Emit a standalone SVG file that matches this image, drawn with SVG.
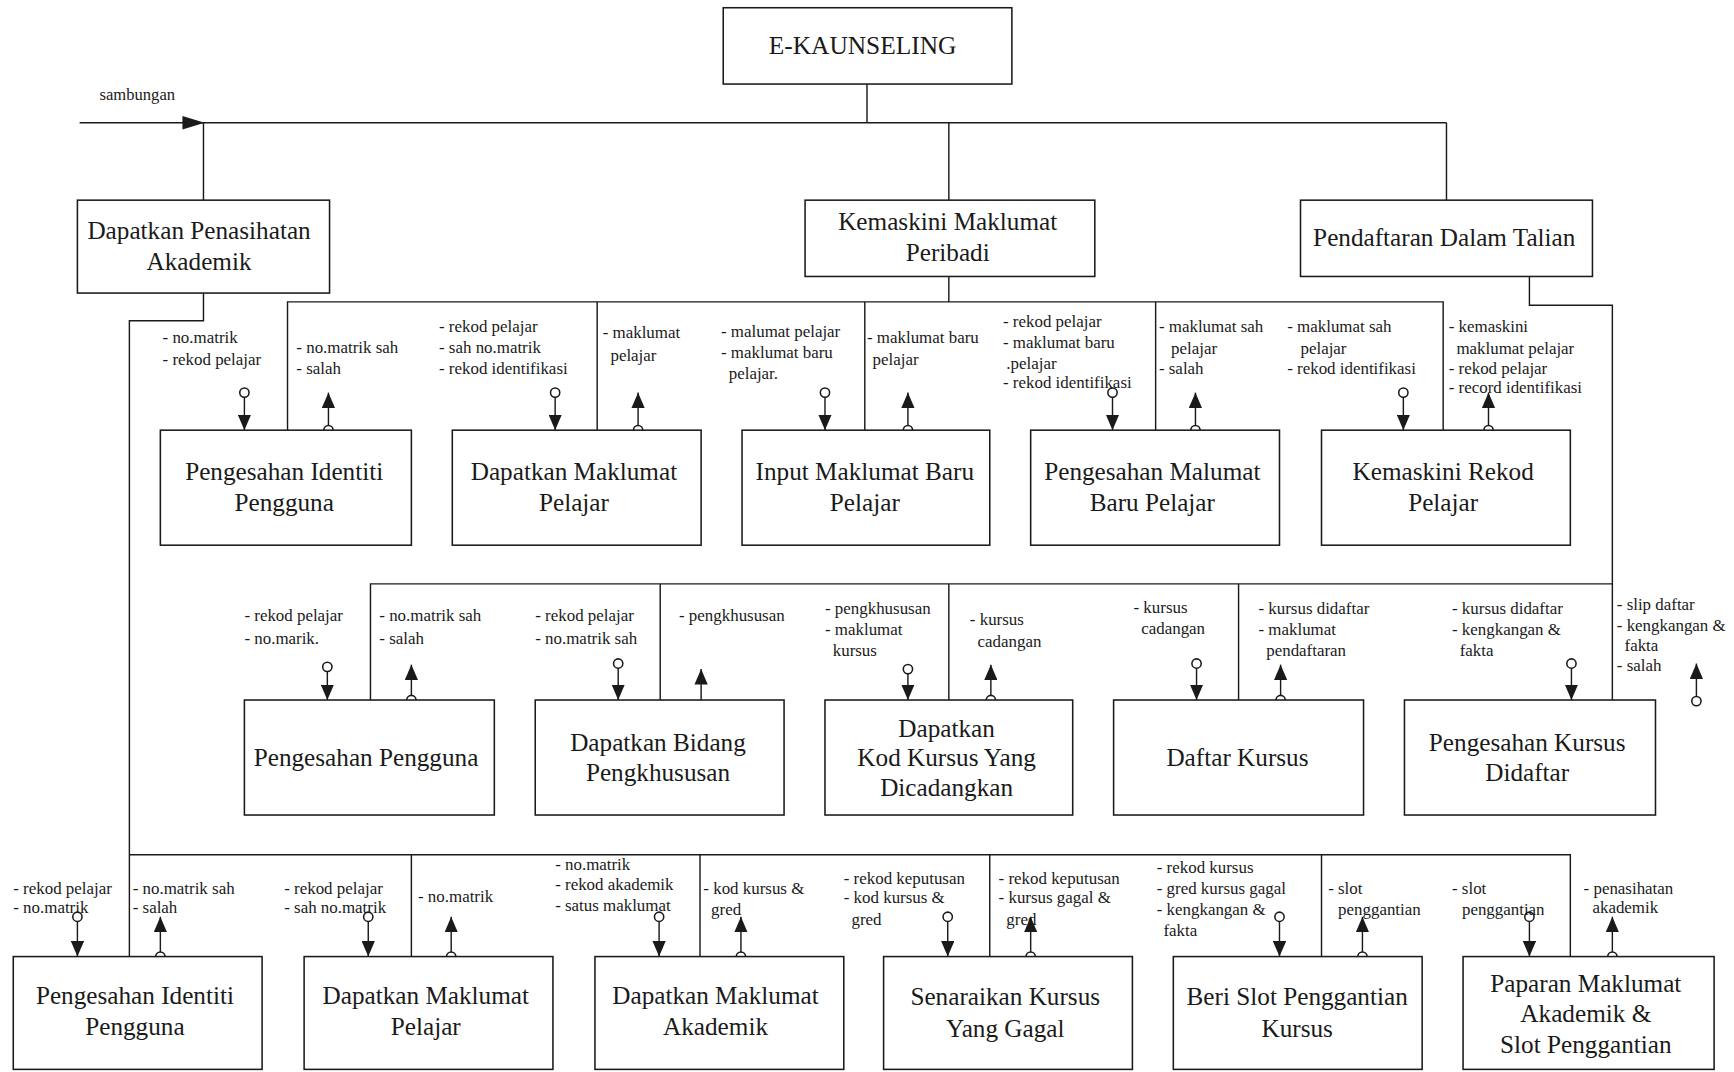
<svg xmlns="http://www.w3.org/2000/svg" width="1734" height="1072" viewBox="0 0 1734 1072">
<style>
.box{fill:#fff;stroke:#1a1a1a;stroke-width:1.4}
.ln{fill:none;stroke:#1a1a1a;stroke-width:1.3}
.ar{fill:none;stroke:#1a1a1a;stroke-width:1.3}
.dot{fill:none;stroke:#1a1a1a;stroke-width:1.4}
.t{font-family:"Liberation Serif","Times New Roman",serif;font-size:22.8px;fill:#1a1a1a;text-anchor:middle}
.lb{font-family:"Liberation Serif","Times New Roman",serif;font-size:15.3px;fill:#1a1a1a}
</style>
<defs>
<marker id="tri" viewBox="0 0 14 12" refX="14" refY="6" markerWidth="14" markerHeight="12" orient="auto" markerUnits="userSpaceOnUse">
<path d="M0,0 L14,6 L0,12 z" fill="#1a1a1a"/>
</marker>
</defs>
<rect width="1734" height="1072" fill="#fff"/>
<g transform="scale(1.10587)">
<g id="connectors">
<path class="ln" d="M784,76 V111"/>
<path class="ln" d="M72,111 H1308"/>
<polygon points="165,105 165,117 185,111" fill="#1a1a1a"/>
<path class="ln" d="M184,111 V181 M858,111 V181 M1308,111 V181"/>
<path class="ln" d="M184,265 V290 H117 V865"/>
<path class="ln" d="M858,250 V273 M260,389 V273 H1305 V389 M540,273 V389 M782,273 V389 M1045,273 V389"/>
<path class="ln" d="M1383,250 V276 H1458 V633 M335,633 V528 H1458 M597,528 V633 M858,528 V633 M1120,528 V633"/>
<path class="ln" d="M117,773 H1420 V865 M372,773 V865 M633,773 V865 M895,773 V865 M1195,773 V865"/>
<g id="row2-arrows">
<circle class="dot" cx="221" cy="355" r="4.2"/><path class="ar" d="M221,359 V389" marker-end="url(#tri)"/>
<circle class="dot" cx="297" cy="389" r="4.2"/><path class="ar" d="M297,385 V355" marker-end="url(#tri)"/>
<circle class="dot" cx="502" cy="355" r="4.2"/><path class="ar" d="M502,359 V389" marker-end="url(#tri)"/>
<circle class="dot" cx="577" cy="389" r="4.2"/><path class="ar" d="M577,385 V355" marker-end="url(#tri)"/>
<circle class="dot" cx="746" cy="355" r="4.2"/><path class="ar" d="M746,359 V389" marker-end="url(#tri)"/>
<circle class="dot" cx="821" cy="389" r="4.2"/><path class="ar" d="M821,385 V355" marker-end="url(#tri)"/>
<circle class="dot" cx="1006" cy="355" r="4.2"/><path class="ar" d="M1006,359 V389" marker-end="url(#tri)"/>
<circle class="dot" cx="1081" cy="389" r="4.2"/><path class="ar" d="M1081,385 V355" marker-end="url(#tri)"/>
<circle class="dot" cx="1269" cy="355" r="4.2"/><path class="ar" d="M1269,359 V389" marker-end="url(#tri)"/>
<circle class="dot" cx="1346" cy="389" r="4.2"/><path class="ar" d="M1346,385 V355" marker-end="url(#tri)"/>
</g>
<g id="row3-arrows">
<circle class="dot" cx="296" cy="603" r="4.2"/><path class="ar" d="M296,607 V633" marker-end="url(#tri)"/>
<circle class="dot" cx="372" cy="633" r="4.2"/><path class="ar" d="M372,629 V601" marker-end="url(#tri)"/>
<circle class="dot" cx="559" cy="600" r="4.2"/><path class="ar" d="M559,604 V633" marker-end="url(#tri)"/>
<circle class="dot" cx="634" cy="639" r="4.2"/><path class="ar" d="M634,635 V605" marker-end="url(#tri)"/>
<circle class="dot" cx="821" cy="605" r="4.2"/><path class="ar" d="M821,609 V633" marker-end="url(#tri)"/>
<circle class="dot" cx="896" cy="633" r="4.2"/><path class="ar" d="M896,629 V601" marker-end="url(#tri)"/>
<circle class="dot" cx="1082" cy="600" r="4.2"/><path class="ar" d="M1082,604 V633" marker-end="url(#tri)"/>
<circle class="dot" cx="1158" cy="633" r="4.2"/><path class="ar" d="M1158,629 V601" marker-end="url(#tri)"/>
<circle class="dot" cx="1421" cy="600" r="4.2"/><path class="ar" d="M1421,604 V633" marker-end="url(#tri)"/>
<circle class="dot" cx="1534" cy="634" r="4.2"/><path class="ar" d="M1534,630 V600" marker-end="url(#tri)"/>
</g>
<g id="row4-arrows">
<circle class="dot" cx="70" cy="829" r="4.2"/><path class="ar" d="M70,833 V865" marker-end="url(#tri)"/>
<circle class="dot" cx="145" cy="865" r="4.2"/><path class="ar" d="M145,861 V829" marker-end="url(#tri)"/>
<circle class="dot" cx="333" cy="829" r="4.2"/><path class="ar" d="M333,833 V865" marker-end="url(#tri)"/>
<circle class="dot" cx="408" cy="865" r="4.2"/><path class="ar" d="M408,861 V829" marker-end="url(#tri)"/>
<circle class="dot" cx="596" cy="829" r="4.2"/><path class="ar" d="M596,833 V865" marker-end="url(#tri)"/>
<circle class="dot" cx="670" cy="865" r="4.2"/><path class="ar" d="M670,861 V829" marker-end="url(#tri)"/>
<circle class="dot" cx="857" cy="829" r="4.2"/><path class="ar" d="M857,833 V865" marker-end="url(#tri)"/>
<circle class="dot" cx="932" cy="865" r="4.2"/><path class="ar" d="M932,861 V829" marker-end="url(#tri)"/>
<circle class="dot" cx="1157" cy="829" r="4.2"/><path class="ar" d="M1157,833 V865" marker-end="url(#tri)"/>
<circle class="dot" cx="1232" cy="865" r="4.2"/><path class="ar" d="M1232,861 V829" marker-end="url(#tri)"/>
<circle class="dot" cx="1383" cy="829" r="4.2"/><path class="ar" d="M1383,833 V865" marker-end="url(#tri)"/>
<circle class="dot" cx="1458" cy="865" r="4.2"/><path class="ar" d="M1458,861 V829" marker-end="url(#tri)"/>
</g>
</g>
<g id="labels">
<text class="lb" x="90" y="90" style="font-size:15px">sambungan</text>
<text class="lb"><tspan x="147" y="310">- no.matrik</tspan><tspan x="147" y="330">- rekod pelajar</tspan></text>
<text class="lb"><tspan x="268" y="319">- no.matrik sah</tspan><tspan x="268" y="338">- salah</tspan></text>
<text class="lb"><tspan x="397" y="300">- rekod pelajar</tspan><tspan x="397" y="319">- sah no.matrik</tspan><tspan x="397" y="338">- rekod identifikasi</tspan></text>
<text class="lb"><tspan x="545" y="306">- maklumat</tspan><tspan x="552" y="326">pelajar</tspan></text>
<text class="lb"><tspan x="652" y="305">- malumat pelajar</tspan><tspan x="652" y="324">- maklumat baru</tspan><tspan x="659" y="343">pelajar.</tspan></text>
<text class="lb"><tspan x="784" y="310">- maklumat baru</tspan><tspan x="789" y="330">pelajar</tspan></text>
<text class="lb"><tspan x="907" y="296">- rekod pelajar</tspan><tspan x="907" y="315">- maklumat baru</tspan><tspan x="910" y="334">.pelajar</tspan><tspan x="907" y="351">- rekod identifikasi</tspan></text>
<text class="lb"><tspan x="1048" y="300">- maklumat sah</tspan><tspan x="1059" y="320">pelajar</tspan><tspan x="1048" y="338">- salah</tspan></text>
<text class="lb"><tspan x="1164" y="300">- maklumat sah</tspan><tspan x="1176" y="320">pelajar</tspan><tspan x="1164" y="338">- rekod identifikasi</tspan></text>
<text class="lb"><tspan x="1310" y="300">- kemaskini</tspan><tspan x="1317" y="320">maklumat pelajar</tspan><tspan x="1310" y="338">- rekod pelajar</tspan><tspan x="1310" y="355">- record identifikasi</tspan></text>

<text class="lb"><tspan x="221" y="562">- rekod pelajar</tspan><tspan x="221" y="582">- no.marik.</tspan></text>
<text class="lb"><tspan x="343" y="562">- no.matrik sah</tspan><tspan x="343" y="582">- salah</tspan></text>
<text class="lb"><tspan x="484" y="562">- rekod pelajar</tspan><tspan x="484" y="582">- no.matrik sah</tspan></text>
<text class="lb"><tspan x="614" y="562">- pengkhususan</tspan></text>
<text class="lb"><tspan x="746" y="555">- pengkhususan</tspan><tspan x="746" y="574">- maklumat</tspan><tspan x="753" y="593">kursus</tspan></text>
<text class="lb"><tspan x="877" y="565">- kursus</tspan><tspan x="884" y="585">cadangan</tspan></text>
<text class="lb"><tspan x="1025" y="554">- kursus</tspan><tspan x="1032" y="573">cadangan</tspan></text>
<text class="lb"><tspan x="1138" y="555">- kursus didaftar</tspan><tspan x="1138" y="574">- maklumat</tspan><tspan x="1145" y="593">pendaftaran</tspan></text>
<text class="lb"><tspan x="1313" y="555">- kursus didaftar</tspan><tspan x="1313" y="574">- kengkangan &amp;</tspan><tspan x="1320" y="593">fakta</tspan></text>
<text class="lb"><tspan x="1462" y="552">- slip daftar</tspan><tspan x="1462" y="571">- kengkangan &amp;</tspan><tspan x="1469" y="589">fakta</tspan><tspan x="1462" y="607">- salah</tspan></text>

<text class="lb"><tspan x="12" y="808">- rekod pelajar</tspan><tspan x="12" y="826">- no.matrik</tspan></text>
<text class="lb"><tspan x="120" y="808">- no.matrik sah</tspan><tspan x="120" y="826">- salah</tspan></text>
<text class="lb"><tspan x="257" y="808">- rekod pelajar</tspan><tspan x="257" y="826">- sah no.matrik</tspan></text>
<text class="lb"><tspan x="378" y="816">- no.matrik</tspan></text>
<text class="lb"><tspan x="502" y="787">- no.matrik</tspan><tspan x="502" y="805">- rekod akademik</tspan><tspan x="502" y="824">- satus maklumat</tspan></text>
<text class="lb"><tspan x="636" y="808">- kod kursus &amp;</tspan><tspan x="643" y="827">gred</tspan></text>
<text class="lb"><tspan x="763" y="799">- rekod keputusan</tspan><tspan x="763" y="817">- kod kursus &amp;</tspan><tspan x="770" y="836">gred</tspan></text>
<text class="lb"><tspan x="903" y="799">- rekod keputusan</tspan><tspan x="903" y="817">- kursus gagal &amp;</tspan><tspan x="910" y="836">gred</tspan></text>
<text class="lb"><tspan x="1046" y="789">- rekod kursus</tspan><tspan x="1046" y="808">- gred kursus gagal</tspan><tspan x="1046" y="827">- kengkangan &amp;</tspan><tspan x="1052" y="846">fakta</tspan></text>
<text class="lb"><tspan x="1201" y="808">- slot</tspan><tspan x="1210" y="827">penggantian</tspan></text>
<text class="lb"><tspan x="1313" y="808">- slot</tspan><tspan x="1322" y="827">penggantian</tspan></text>
<text class="lb"><tspan x="1432" y="808">- penasihatan</tspan><tspan x="1440" y="826">akademik</tspan></text>
</g>

<g id="n-ekaunseling"><rect class="box" x="654" y="7" width="261" height="69"/><text class="t" x="780" y="49" style="font-size:23px">E-KAUNSELING</text></g>
<g id="n-penasihatan"><rect class="box" x="70" y="181" width="228" height="84"/><text class="t"><tspan x="180" y="216">Dapatkan Penasihatan</tspan><tspan x="180" y="244">Akademik</tspan></text></g>
<g id="n-kemaskini-peribadi"><rect class="box" x="728" y="181" width="262" height="69"/><text class="t"><tspan x="857" y="208">Kemaskini Maklumat</tspan><tspan x="857" y="236">Peribadi</tspan></text></g>
<g id="n-pendaftaran"><rect class="box" x="1176" y="181" width="264" height="69"/><text class="t" x="1306" y="222">Pendaftaran Dalam Talian</text></g>

<g id="n-r2-1"><rect class="box" x="145" y="389" width="227" height="104"/><text class="t"><tspan x="257" y="434">Pengesahan Identiti</tspan><tspan x="257" y="462">Pengguna</tspan></text></g>
<g id="n-r2-2"><rect class="box" x="409" y="389" width="225" height="104"/><text class="t"><tspan x="519" y="434">Dapatkan Maklumat</tspan><tspan x="519" y="462">Pelajar</tspan></text></g>
<g id="n-r2-3"><rect class="box" x="671" y="389" width="224" height="104"/><text class="t"><tspan x="782" y="434">Input Maklumat Baru</tspan><tspan x="782" y="462">Pelajar</tspan></text></g>
<g id="n-r2-4"><rect class="box" x="932" y="389" width="225" height="104"/><text class="t"><tspan x="1042" y="434">Pengesahan Malumat</tspan><tspan x="1042" y="462">Baru Pelajar</tspan></text></g>
<g id="n-r2-5"><rect class="box" x="1195" y="389" width="225" height="104"/><text class="t"><tspan x="1305" y="434">Kemaskini Rekod</tspan><tspan x="1305" y="462">Pelajar</tspan></text></g>

<g id="n-r3-1"><rect class="box" x="221" y="633" width="226" height="104"/><text class="t" x="331" y="693">Pengesahan Pengguna</text></g>
<g id="n-r3-2"><rect class="box" x="484" y="633" width="225" height="104"/><text class="t"><tspan x="595" y="679">Dapatkan Bidang</tspan><tspan x="595" y="706">Pengkhususan</tspan></text></g>
<g id="n-r3-3"><rect class="box" x="746" y="633" width="224" height="104"/><text class="t"><tspan x="856" y="666">Dapatkan</tspan><tspan x="856" y="693">Kod Kursus Yang</tspan><tspan x="856" y="720">Dicadangkan</tspan></text></g>
<g id="n-r3-4"><rect class="box" x="1007" y="633" width="226" height="104"/><text class="t" x="1119" y="693">Daftar Kursus</text></g>
<g id="n-r3-5"><rect class="box" x="1270" y="633" width="227" height="104"/><text class="t"><tspan x="1381" y="679">Pengesahan Kursus</tspan><tspan x="1381" y="706">Didaftar</tspan></text></g>

<g id="n-r4-1"><rect class="box" x="12" y="865" width="225" height="102"/><text class="t"><tspan x="122" y="908">Pengesahan Identiti</tspan><tspan x="122" y="936">Pengguna</tspan></text></g>
<g id="n-r4-2"><rect class="box" x="275" y="865" width="225" height="102"/><text class="t"><tspan x="385" y="908">Dapatkan Maklumat</tspan><tspan x="385" y="936">Pelajar</tspan></text></g>
<g id="n-r4-3"><rect class="box" x="538" y="865" width="225" height="102"/><text class="t"><tspan x="647" y="908">Dapatkan Maklumat</tspan><tspan x="647" y="936">Akademik</tspan></text></g>
<g id="n-r4-4"><rect class="box" x="799" y="865" width="225" height="102"/><text class="t"><tspan x="909" y="909">Senaraikan Kursus</tspan><tspan x="909" y="938">Yang Gagal</tspan></text></g>
<g id="n-r4-5"><rect class="box" x="1061" y="865" width="225" height="102"/><text class="t"><tspan x="1173" y="909">Beri Slot Penggantian</tspan><tspan x="1173" y="938">Kursus</tspan></text></g>
<g id="n-r4-6"><rect class="box" x="1323" y="865" width="227" height="102"/><text class="t"><tspan x="1434" y="897">Paparan Maklumat</tspan><tspan x="1434" y="924">Akademik &amp;</tspan><tspan x="1434" y="952">Slot Penggantian</tspan></text></g>
</g>
</svg>
